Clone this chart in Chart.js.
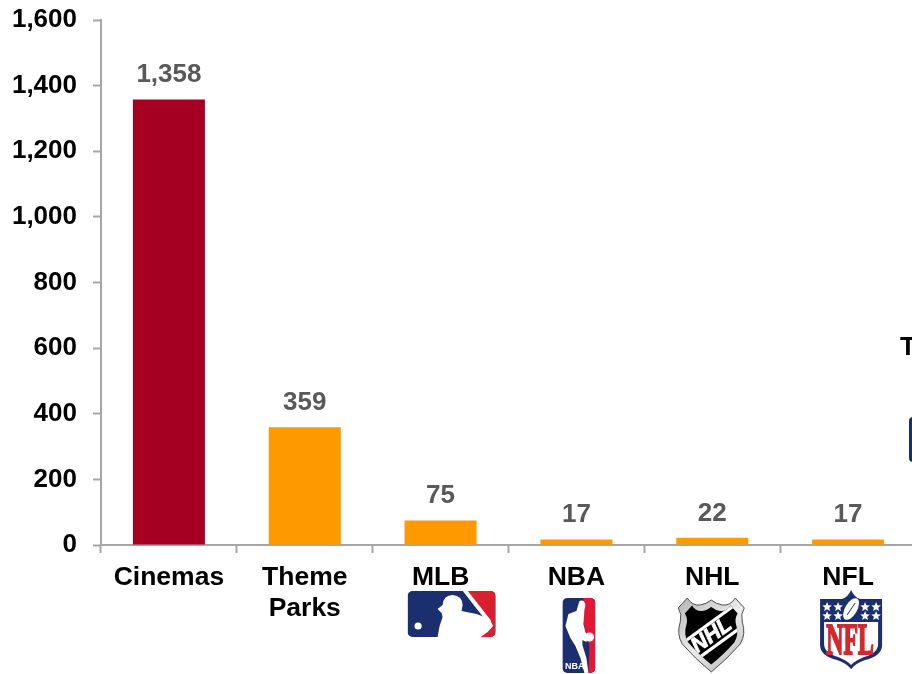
<!DOCTYPE html>
<html>
<head>
<meta charset="utf-8">
<title>Attendance by venue type</title>
<script src="https://cdn.jsdelivr.net/npm/chart.js@4"></script>
<style>
  html, body { margin: 0; padding: 0; background: #fff; overflow: hidden; }
  #wrap { width: 930px; height: 674px; }
</style>
</head>
<body>
<div id="wrap"><canvas id="attendanceChart" width="930" height="674"></canvas></div>
<script>
const categories = ["Cinemas", ["Theme", "Parks"], "MLB", "NBA", "NHL", "NFL"];
const attendance = [1358, 359, 75, 17, 22, 17];
const barColors = ["#A50021", "#FF9900", "#FF9900", "#FF9900", "#FF9900", "#FF9900"];
const tickValues = [0, 200, 400, 600, 800, 1000, 1200, 1400, 1600];

const FONT = "'Liberation Sans', Arial, sans-serif";
const NAVY = "#1B2F6E";
const RED = "#D8202F";

function fillPath(ctx, color, d) {
  ctx.fillStyle = color;
  ctx.fill(new Path2D(d));
}

function star(ctx, cx, cy, r) {
  ctx.beginPath();
  for (let i = 0; i < 10; i++) {
    const rad = i % 2 === 0 ? r : r * 0.45;
    const a = -Math.PI / 2 + i * Math.PI / 5;
    ctx.lineTo(cx + rad * Math.cos(a), cy + rad * Math.sin(a));
  }
  ctx.closePath();
  ctx.fill();
}

function drawMlb(ctx) {
  ctx.save();
  ctx.beginPath();
  ctx.roundRect(0, 0, 88, 46, 5);
  ctx.clip();
  ctx.fillStyle = NAVY;
  ctx.fillRect(0, 0, 88, 46);
  fillPath(ctx, RED, "M60 0 L88 0 L88 46 L70 46 L80 30 Z");
  // bat and batter
  ctx.strokeStyle = "#fff";
  ctx.lineWidth = 4;
  ctx.beginPath();
  ctx.moveTo(57, -1);
  ctx.lineTo(82, 31);
  ctx.stroke();
  fillPath(ctx, "#fff", "M30 46 L32 35 L35 26 L34 22 L30 18 L35 14 Q36 4 45 4 Q55 5 55 14 L54 20 L69 23 L82 28 L85.5 35 L80 41 L73 46 Z");
  ctx.fillStyle = "#fff";
  ctx.beginPath();
  ctx.arc(10.5, 35, 3.6, 0, Math.PI * 2);
  ctx.fill();
  ctx.restore();
}

function drawNba(ctx) {
  ctx.save();
  ctx.beginPath();
  ctx.roundRect(0, 0, 33, 75, 5);
  ctx.clip();
  ctx.fillStyle = NAVY;
  ctx.fillRect(0, 0, 33, 75);
  fillPath(ctx, "#E31837", "M21 0 L33 0 L33 75 L26 75 L27 48 L20 20 Z");
  // player silhouette and ball
  fillPath(ctx, "#fff", "M17 3 Q22 1 23 7 L22 12 L21 26 L23 34 L25 38 L24 44 L20 42 L20 47 L24 60 L26 75 L22 75 L18 60 L13 48 L8 40 L3 28 L6 16 L14 13 Z");
  ctx.fillStyle = "#fff";
  ctx.beginPath();
  ctx.arc(27, 39, 4.6, 0, Math.PI * 2);
  ctx.fill();
  ctx.font = "bold 9px " + FONT;
  ctx.textAlign = "left";
  ctx.textBaseline = "alphabetic";
  ctx.fillText("NBA", 2.5, 71);
  ctx.restore();
}

const NHL_SHIELD = "M0 10 L9 0 Q14 8 22 7 Q28 6 33 2 Q38 6 44 7 Q52 8 57 0 L66 10 Q62 16 64 24 Q68 36 62 46 Q50 60 33 74 Q16 60 4 46 Q-2 36 2 24 Q4 16 0 10 Z";

function drawNhl(ctx) {
  ctx.save();
  const p = new Path2D(NHL_SHIELD);
  const metal = ctx.createLinearGradient(0, 0, 66, 74);
  metal.addColorStop(0, "#b5b5b5");
  metal.addColorStop(0.5, "#ececec");
  metal.addColorStop(1, "#b0b0b0");
  ctx.fillStyle = metal;
  ctx.fill(p);
  ctx.strokeStyle = "#4d4d4d";
  ctx.lineWidth = 1;
  ctx.stroke(p);
  // black centre of the shield
  ctx.translate(33, 37);
  ctx.scale(0.8, 0.8);
  ctx.translate(-33, -37);
  ctx.fillStyle = "#000";
  ctx.fill(p);
  ctx.clip(p);
  ctx.translate(33, 37);
  ctx.rotate(-36 * Math.PI / 180);
  ctx.fillStyle = "#fff";
  ctx.fillRect(-60, -15, 120, 4);
  ctx.fillRect(-60, 12, 120, 4);
  ctx.font = "italic bold 27px " + FONT;
  ctx.textAlign = "center";
  ctx.textBaseline = "middle";
  ctx.strokeStyle = "#fff";
  ctx.lineWidth = 1;
  ctx.fillText("NHL", 0, 1);
  ctx.strokeText("NHL", 0, 1);
  ctx.restore();
}

function drawNfl(ctx) {
  ctx.save();
  fillPath(ctx, NAVY, "M0 9 L22 9 Q28 7 31 0 Q34 7 40 9 L62 9 L62 55 Q62 66 45 70 Q36 73 31 79 Q26 73 17 70 Q0 66 0 55 Z");
  fillPath(ctx, "#fff", "M4 32 L58 32 L58 54 Q58 63 44 67 Q36 70 31 75 Q26 70 18 67 Q4 63 4 54 Z");
  ctx.fillStyle = "#fff";
  [7, 18, 45, 56].forEach(function(x) {
    star(ctx, x, 17, 5);
    star(ctx, x, 26, 5);
  });
  // football
  ctx.beginPath();
  ctx.ellipse(31, 19, 6, 12, 30 * Math.PI / 180, 0, Math.PI * 2);
  ctx.fill();
  ctx.strokeStyle = NAVY;
  ctx.lineWidth = 1;
  ctx.beginPath();
  ctx.moveTo(27, 25);
  ctx.lineTo(35, 13);
  ctx.stroke();
  ctx.fillStyle = "#D3282F";
  ctx.strokeStyle = "#D3282F";
  ctx.font = "bold 44px 'Liberation Serif', serif";
  ctx.textAlign = "center";
  ctx.textBaseline = "alphabetic";
  ctx.translate(30, 64);
  ctx.scale(0.54, 1);
  ctx.lineWidth = 2;
  ctx.fillText("NFL", 0, 0);
  ctx.strokeText("NFL", 0, 0);
  ctx.restore();
}

// draws the value above each bar
const valueLabels = {
  id: "valueLabels",
  afterDatasetsDraw: function(chart) {
    const ctx = chart.ctx;
    ctx.save();
    ctx.font = "bold 26px " + FONT;
    ctx.fillStyle = "#595959";
    ctx.textAlign = "center";
    ctx.textBaseline = "alphabetic";
    chart.getDatasetMeta(0).data.forEach(function(bar, i) {
      ctx.fillText(attendance[i].toLocaleString("en-US"), bar.x, bar.y - 17);
    });
    ctx.restore();
  }
};

// league logos under the axis labels, and the panel starting at the right edge
const logos = {
  id: "logos",
  afterDraw: function(chart) {
    const ctx = chart.ctx;
    const x = chart.scales.x;
    const base = chart.scales.y.getPixelForValue(0);
    const place = [[2, -33, 46, drawMlb], [3, -14, 53, drawNba], [4, -34, 53, drawNhl], [5, -28, 45, drawNfl]];
    place.forEach(function(p) {
      ctx.save();
      ctx.translate(x.getPixelForValue(p[0]) + p[1], base + p[2]);
      p[3](ctx);
      ctx.restore();
    });

    ctx.save();
    ctx.font = "bold 26px " + FONT;
    ctx.fillStyle = "#000";
    ctx.textAlign = "left";
    ctx.textBaseline = "alphabetic";
    ctx.fillText("T", 900, 355);
    ctx.fillStyle = NAVY;
    ctx.beginPath();
    ctx.roundRect(909, 417, 40, 45, 4);
    ctx.fill();
    ctx.restore();
  }
};

new Chart(document.getElementById("attendanceChart").getContext("2d"), {
  type: "bar",
  data: {
    labels: categories,
    datasets: [{
      data: attendance,
      backgroundColor: barColors,
      barPercentage: 0.53,
      categoryPercentage: 1
    }]
  },
  options: {
    responsive: false,
    animation: false,
    layout: { padding: { top: 20, right: 14, left: 0, bottom: 0 } },
    plugins: {
      legend: { display: false },
      tooltip: { enabled: false }
    },
    scales: {
      x: {
        afterFit: function(scale) {
          scale.height = 129;
          scale.paddingRight = 0;
          scale.paddingLeft = 0;
        },
        border: { color: "#A6A6A6", width: 2 },
        grid: { drawOnChartArea: false, tickColor: "#A6A6A6", tickWidth: 2, tickLength: 8 },
        ticks: {
          color: "#000",
          font: { family: FONT, size: 26.5, weight: "bold", lineHeight: 1.17 },
          padding: 9,
          maxRotation: 0,
          autoSkip: false
        }
      },
      y: {
        min: 0,
        max: 1600,
        afterBuildTicks: function(scale) {
          scale.ticks = tickValues.map(function(v) { return { value: v }; });
        },
        afterFit: function(scale) {
          scale.width = 101;
          scale.paddingTop = 0;
          scale.paddingBottom = 0;
        },
        border: { color: "#A6A6A6", width: 2 },
        grid: { drawOnChartArea: false, tickColor: "#A6A6A6", tickWidth: 2, tickLength: 8 },
        ticks: {
          color: "#000",
          font: { family: FONT, size: 26, weight: "bold" },
          padding: 16,
          callback: function(v) { return v.toLocaleString("en-US"); }
        }
      }
    }
  },
  plugins: [valueLabels, logos]
});
</script>
</body>
</html>
